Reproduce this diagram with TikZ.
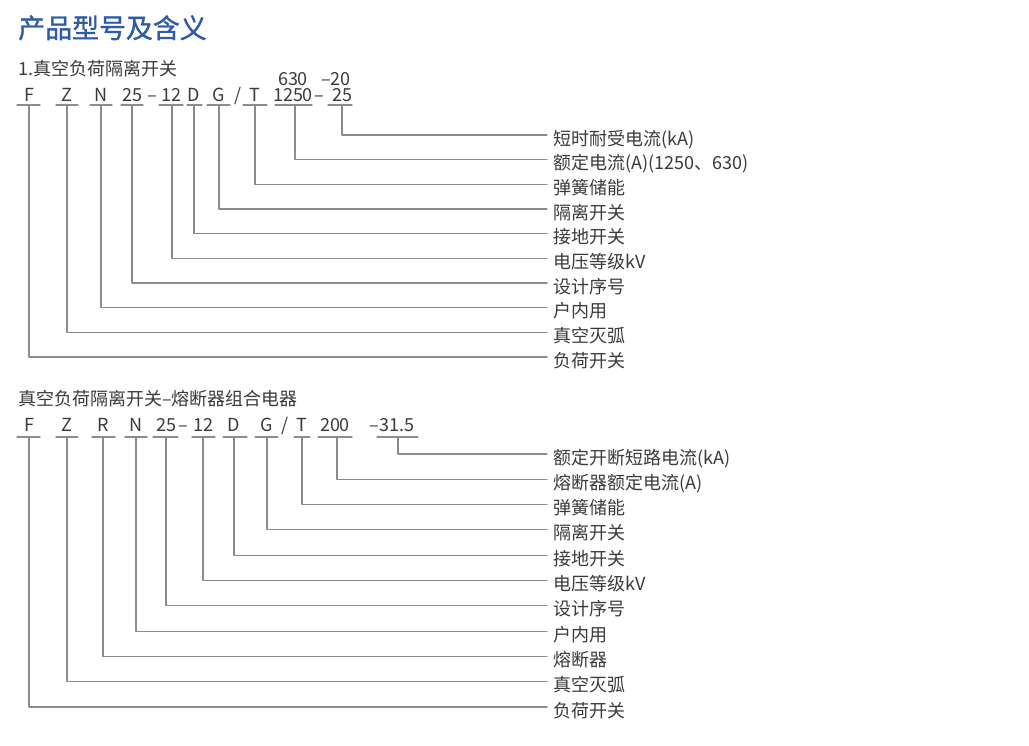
\documentclass[tikz,border=0pt]{standalone}
\usepackage{fontspec}
\setmainfont{Noto Sans CJK SC}
\newfontfamily\titlefont{Noto Sans CJK SC}[FakeBold=1.2]
\usepackage{color}
\definecolor{titleblue}{HTML}{2D5BA8}
\definecolor{txtgray}{HTML}{3A3A3A}
\definecolor{linegray}{HTML}{8C8C8C}

\begin{document}
\begin{tikzpicture}[line cap=round,line join=round,x=0.75pt,y=-0.75pt,
  code/.style={anchor=base,inner sep=0pt,text=txtgray,font=\fontsize{13.5}{16}\selectfont},
  lbl/.style={anchor=base west,inner sep=0pt,text=txtgray,font=\fontsize{13.5}{16}\selectfont},
  rule/.style={color=linegray,line width=0.8pt}]
\useasboundingbox (0,0) rectangle (1029,746);
%otsikko
\node[anchor=base west,inner sep=0pt,text=titleblue,font=\titlefont\fontsize{20.2}{24}\selectfont] (title) at (18,38) {产品型号及含义};

%1. kytkin
\node[lbl] (head1) at (18,75) {1.真空负荷隔离开关};
\foreach \n/\t/\xc/\xa/\xb/\xv/\k/\lab in {F/F/29/17/40/29/10/负荷开关,
  Z/Z/67/56/78/67/9/真空灭弧, N/N/101/90/112/101/8/户内用,
  ser/25/132/121/143/132/7/设计序号, volt/12/171/159/183/172/6/电压等级kV,
  D/D/194/187/202/194/5/接地开关, G/G/219/207/230/219/4/隔离开关,
  T/T/255/243/267/255/3/弹簧储能, I/1250/293/275/312/295/2/额定电流(A)(1250、630),
  kA/25/342/328/352/342/1/短时耐受电流(kA)}
{
\node[code] (a\n) at (\xc,101) {\t};
\draw[rule] (\xa,105) -- (\xb,105);
\coordinate (av\n) at (\xv,105);
\coordinate (ae\n) at (547,{135+(\k-1)*24.67});
\draw[rule] (av\n) |- (ae\n);
\node[lbl] (al\n) at (553,{145+(\k-1)*24.67}) {\lab};
}
\node[code] (adash) at (152,101) {–};
\node[code] (aslash) at (238,101) {/};
\node[code] (adashb) at (319,101) {–};
\node[code] (atopI) at (293,85) {630};
\node[code] (atopkA) at (336,85) {–20};

%2. yhdistelma
\node[lbl] (head2) at (18,405) {真空负荷隔离开关–熔断器组合电器};
\foreach \n/\t/\xc/\xa/\xb/\xv/\k/\lab in {F/F/29/17/40/29/11/负荷开关,
  Z/Z/67/56/78/67/10/真空灭弧, R/R/103/92/115/103/9/熔断器,
  N/N/136/125/147/136/8/户内用, ser/25/166/153/178/166/7/设计序号,
  volt/12/203/192/215/203/6/电压等级kV, D/D/234/223/247/234/5/接地开关,
  G/G/267/255/278/267/4/隔离开关, T/T/302/294/310/302/3/弹簧储能,
  I/200/335/318/352/337/2/熔断器额定电流(A),
  kA/–31.5/392/377/418/398/1/额定开断短路电流(kA)}
{
\node[code] (b\n) at (\xc,431) {\t};
\draw[rule] (\xa,437) -- (\xb,437);
\coordinate (bv\n) at (\xv,437);
\coordinate (be\n) at (547,{454+(\k-1)*25.3});
\draw[rule] (bv\n) |- (be\n);
\node[lbl] (bl\n) at (553,{464+(\k-1)*25.3}) {\lab};
}
\node[code] (bdash) at (183,431) {–};
\node[code] (bslash) at (285,431) {/};
\end{tikzpicture}
\end{document}
